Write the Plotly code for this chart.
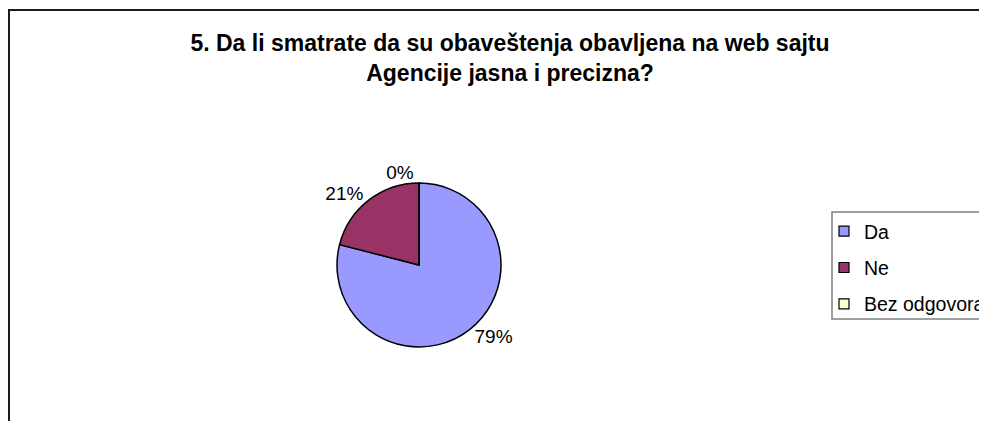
import plotly.graph_objects as go

labels = ["Da", "Ne", "Bez odgovora"]
values = [79, 21, 0]
colors = ["#9999FF", "#993366", "#FFFFCC"]
title_text = "5. Da li smatrate da su obaveštenja obavljena na web sajtu<br>Agencije jasna i precizna?"

W, H = 987, 421
FONT = "Liberation Sans, Arial, sans-serif"
# page offset (body margin) is 8px; coordinates below are in figure pixels
cx, cy, r = 411, 257, 82

fig = go.Figure()
fig.add_trace(go.Pie(
    labels=labels,
    values=values,
    marker=dict(colors=colors, line=dict(color="#000000", width=1.5)),
    sort=False,
    direction="clockwise",
    rotation=0,
    textposition="outside",
    texttemplate="%{percent:.0%}",
    textfont=dict(family=FONT, size=19, color="#000000"),
    domain=dict(x=[(cx - r) / W, (cx + r) / W], y=[(H - cy - r) / H, (H - cy + r) / H]),
    showlegend=False,
    hoverinfo="label+percent",
))

# legend entries (one per category) so the legend spacing can match
for lab, col in zip(labels, colors):
    fig.add_trace(go.Scatter(
        x=[None], y=[None], mode="markers", name=lab, legendgroup=lab,
        marker=dict(symbol="square", size=10, color=col, line=dict(color="#000000", width=1.2)),
        showlegend=True,
    ))

fig.update_layout(
    width=W, height=H,
    margin=dict(l=0, r=0, t=0, b=0, autoexpand=False),
    paper_bgcolor="#FFFFFF",
    plot_bgcolor="#FFFFFF",
    font=dict(family=FONT, color="#000000"),
    xaxis=dict(visible=False),
    yaxis=dict(visible=False),
    title=dict(
        text="<b>" + title_text + "</b>",
        x=502 / W, xanchor="center",
        y=1 - 43 / H, yanchor="middle",
        font=dict(size=23, family=FONT, color="#000000"),
    ),
    legend=dict(
        x=816 / W, xanchor="left",
        y=(H - 204) / H, yanchor="top",
        borderwidth=0,
        bgcolor="rgba(0,0,0,0)",
        tracegroupgap=8,
        font=dict(size=19.5, family=FONT, color="#000000"),
    ),
    shapes=[
        dict(type="rect", xref="paper", yref="paper",
             x0=1 / W, x1=1.05, y0=-0.05, y1=(H - 2) / H,
             line=dict(color="#1a1a1a", width=2),
             fillcolor="rgba(0,0,0,0)", layer="below"),
        dict(type="rect", xref="paper", yref="paper",
             x0=824 / W, x1=1.05, y0=(H - 311) / H, y1=(H - 204) / H,
             line=dict(color="#808080", width=1.5),
             fillcolor="rgba(0,0,0,0)", layer="below"),
    ],
)

fig.write_html("out.html")
